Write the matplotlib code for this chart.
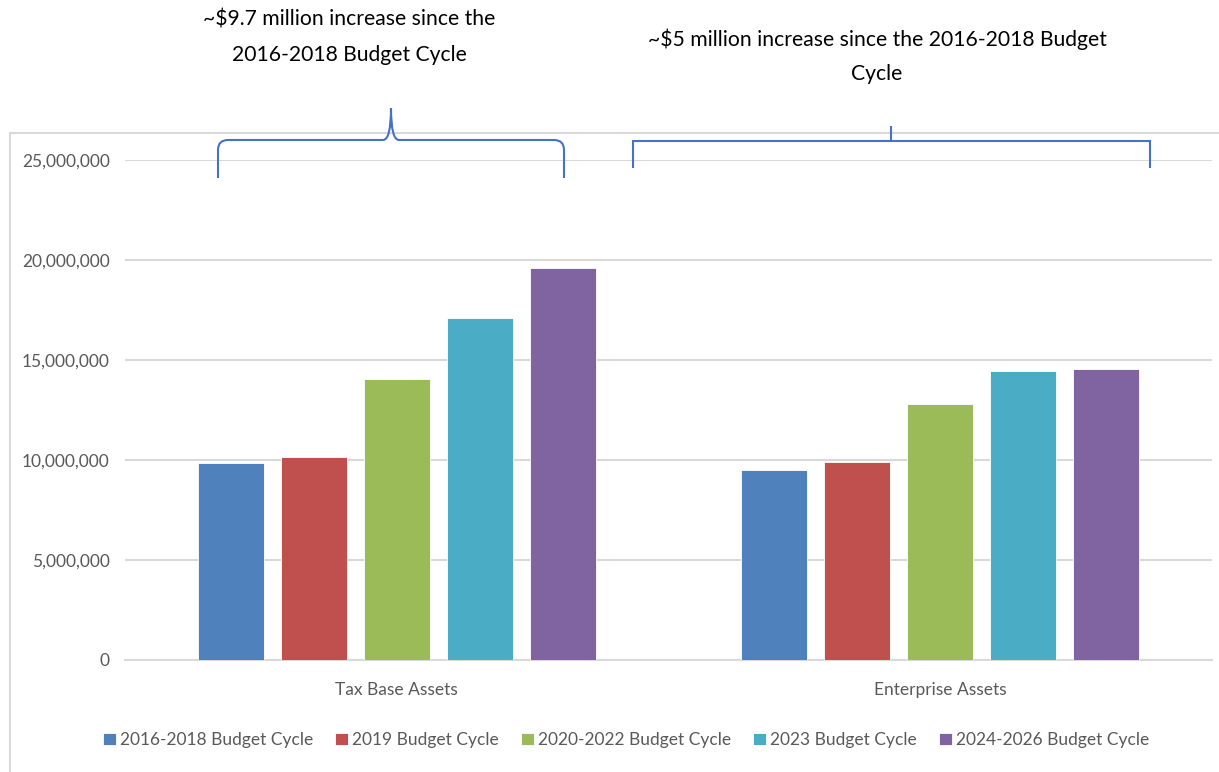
import matplotlib
matplotlib.use('Agg')
import numpy as np
from matplotlib import pyplot as plt
from matplotlib.path import Path
from matplotlib.patches import PathPatch, Rectangle

###### Data ######

categories = ['Tax Base Assets', 'Enterprise Assets']
series_names = ['2016-2018 Budget Cycle', '2019 Budget Cycle', '2020-2022 Budget Cycle',
                '2023 Budget Cycle', '2024-2026 Budget Cycle']
tax_base = [9870000, 10130000, 14070000, 17080000, 19580000]
enterprise = [9500000, 9920000, 12820000, 14450000, 14550000]
colors = ['#4F81BD', '#C0504D', '#9BBB59', '#4BACC6', '#8064A2']

note_left = '~$9.7 million increase since the\n2016-2018 Budget Cycle'
note_right = '~$5 million increase since the 2016-2018 Budget\nCycle'

###### Plot ######

W, H = 1219, 772
plt.rcParams['font.family'] = ['Lato', 'DejaVu Sans']
fig = plt.figure(figsize=(W / 100, H / 100), dpi=100)


def px(x, y):
    # pixel (from top-left) -> figure fraction
    return x / W, 1 - y / H


ax = fig.add_axes([125 / W, 1 - 660 / H, (1212 - 125) / W, 500 / H])

values = np.array([tax_base, enterprise])
x = np.arange(len(categories))
slot = 0.1527
bar_w = 0.1214
for i, name in enumerate(series_names):
    ax.bar(x + (i - 2) * slot, values[:, i], width=bar_w, color=colors[i],
           edgecolor='white', linewidth=0.6, label=name, zorder=3)

ax.set_xlim(-0.5, 1.5)
ax.set_ylim(0, 25000000)
ax.set_yticks(np.arange(0, 25000001, 5000000))
ax.set_yticklabels(['{:,}'.format(v) for v in range(0, 25000001, 5000000)])
ax.set_xticks(x)
ax.set_xticklabels(categories)
ax.grid(axis='y', color='#d9d9d9', linewidth=1.5, zorder=0)
for s in ['top', 'right', 'left']:
    ax.spines[s].set_visible(False)
ax.spines['bottom'].set_color('#d9d9d9')
ax.spines['bottom'].set_linewidth(1.5)
ax.tick_params(axis='both', length=0, colors='#595959', labelsize=12.5)
ax.tick_params(axis='x', pad=16)
ax.tick_params(axis='y', pad=11)

# chart area border
fig.add_artist(Rectangle(px(10, 800), 1.2, (800 - 133) / H, transform=fig.transFigure,
                         fill=False, edgecolor='#d9d9d9', linewidth=1.5))

# legend
fig.legend(loc='center', bbox_to_anchor=px(626, 740), ncol=5, frameon=False,
           fontsize=12.5, handlelength=0.75, handleheight=0.75, handletextpad=0.25,
           columnspacing=1.25, labelcolor='#595959')

# curly brace over tax base assets
bc = '#4472C4'
P = [px(218, 178), px(218, 150), px(218, 140), px(228, 140), px(383, 140),
     px(391, 140), px(391, 108), px(391, 140), px(399, 140), px(554, 140),
     px(564, 140), px(564, 150), px(564, 178)]
codes = [Path.MOVETO, Path.LINETO, Path.CURVE3, Path.CURVE3, Path.LINETO,
         Path.CURVE3, Path.CURVE3, Path.CURVE3, Path.CURVE3, Path.LINETO,
         Path.CURVE3, Path.CURVE3, Path.LINETO]
fig.add_artist(PathPatch(Path(P, codes), transform=fig.transFigure, fill=False,
                         edgecolor=bc, linewidth=1.5))

# square bracket over enterprise assets
P2 = [px(633, 168), px(633, 141), px(1150, 141), px(1150, 168)]
fig.add_artist(PathPatch(Path(P2), transform=fig.transFigure, fill=False,
                         edgecolor=bc, linewidth=1.5))
P3 = [px(891, 141), px(891, 126)]
fig.add_artist(PathPatch(Path(P3), transform=fig.transFigure, fill=False,
                         edgecolor=bc, linewidth=1.5))

fig.text(*px(349, 37), note_left, ha='center', va='center', fontsize=15.2,
         color='#000000', linespacing=1.95)
fig.text(*px(877, 56), note_right, ha='center', va='center', fontsize=15.2,
         color='#000000', linespacing=1.85)

fig.savefig('out.png', dpi=100)
